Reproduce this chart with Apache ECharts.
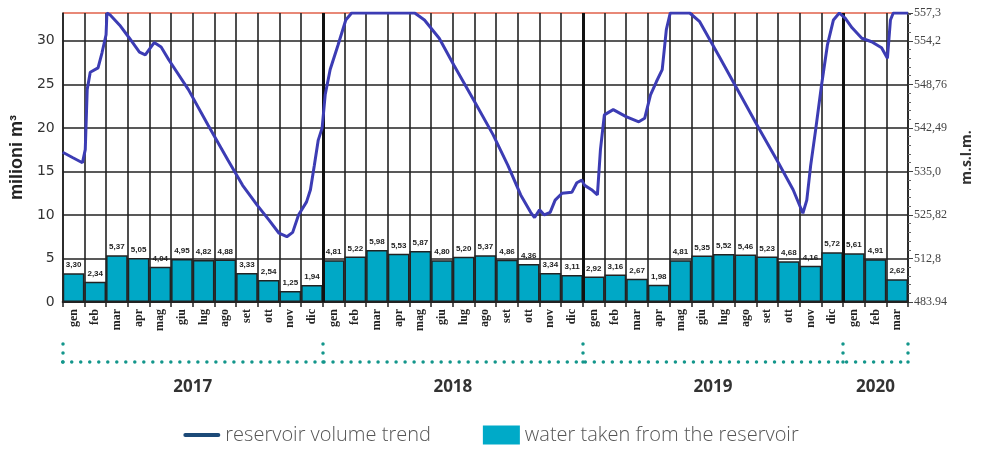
<!DOCTYPE html>
<html>
<head>
<meta charset="utf-8">
<script src="https://cdn.jsdelivr.net/npm/echarts@6/dist/echarts.min.js"></script>
<style>
  html, body { margin: 0; padding: 0; background: #fff; }
  #chart { width: 982px; height: 450px; }
</style>
</head>
<body>
<div id="chart"></div>
<script>
// mesi (etichette asse x)
const MONTHS = ['gen', 'feb', 'mar', 'apr', 'mag', 'giu', 'lug', 'ago', 'set', 'ott', 'nov', 'dic'];
const categories = [].concat(MONTHS, MONTHS, MONTHS, MONTHS.slice(0, 3));

// prelievi mensili (milioni m3)
const water2017 = [3.30, 2.34, 5.37, 5.05, 4.04, 4.95, 4.82, 4.88, 3.33, 2.54, 1.25, 1.94];
const water2018 = [4.81, 5.22, 5.98, 5.53, 5.87, 4.80, 5.20, 5.37, 4.86, 4.36, 3.34, 3.11];
const water2019 = [2.92, 3.16, 2.67, 1.98, 4.81, 5.35, 5.52, 5.46, 5.23, 4.68, 4.16, 5.72];
const water2020 = [5.61, 4.91, 2.62];
const waterTaken = [].concat(water2017, water2018, water2019, water2020);

// andamento volume invaso: [mese (0-39), milioni m3]
const volume2017 = [
  [0, 17.2], [0.45, 16.6], [0.91, 16.0], [1.04, 17.5], [1.13, 24.4], [1.27, 26.4],
  [1.63, 26.9], [1.81, 28.6], [2.0, 30.7], [2.04, 33.2], [2.18, 33.0], [2.63, 31.8],
  [3.08, 30.3], [3.54, 28.7], [3.81, 28.4], [4.22, 29.8], [4.54, 29.3], [4.9, 27.8],
  [5.8, 24.4], [6.71, 20.3], [7.62, 16.3], [8.3, 13.4], [8.98, 11.1], [9.52, 9.4],
  [9.98, 7.9], [10.34, 7.5], [10.61, 8.0], [10.88, 10.0], [11.25, 11.5], [11.43, 12.9],
  [11.61, 15.7], [11.79, 18.6], [11.97, 20.0]
];
const volume2018 = [
  [12.11, 23.8], [12.34, 26.7], [12.7, 29.5], [13.06, 32.4], [13.33, 33.2], [16.24, 33.2],
  [16.69, 32.4], [17.37, 30.3], [18.05, 27.2], [18.96, 23.2], [19.86, 19.2], [20.54, 15.7],
  [21.13, 12.3], [21.59, 10.3], [21.77, 9.7], [22.0, 10.6], [22.22, 10.0], [22.49, 10.3],
  [22.72, 11.7], [23.04, 12.5], [23.49, 12.6], [23.72, 13.7], [23.95, 14.0]
];
const volume2019 = [
  [24.08, 13.4], [24.4, 12.9], [24.67, 12.3], [24.81, 17.5], [24.99, 21.5], [25.4, 22.1],
  [25.99, 21.3], [26.58, 20.7], [26.85, 21.1], [27.12, 23.8], [27.39, 25.3], [27.66, 26.7],
  [27.85, 31.3], [28.03, 33.2], [28.93, 33.2], [29.39, 32.2], [30.29, 28.2], [31.2, 24.1],
  [32.11, 20.0], [33.02, 16.0], [33.7, 12.9], [34.15, 10.2], [34.33, 11.7], [34.51, 15.7],
  [34.74, 19.8], [35.01, 24.9], [35.28, 29.5], [35.56, 32.4], [35.83, 33.2]
];
const volume2020 = [
  [36.1, 32.6], [36.42, 31.5], [36.87, 30.3], [37.32, 29.9], [37.78, 29.2], [38.05, 28.0],
  [38.19, 32.4], [38.32, 33.2], [39, 33.2]
];
const volumeTrend = [].concat(volume2017, volume2018, volume2019, volume2020);

// anni
const YEARS = ['2017', '2018', '2019', '2020'];
const YEAR_CENTERS = [6, 18, 30, 37.5];
const YEAR_BOUNDS = [0, 12, 24, 36, 39];

// etichette asse destro (m.s.l.m.)
const Y_MAX = 33.2;
const RIGHT_LABELS = ['483.94', '512,8', '525,82', '535,0', '542,49', '548,76', '554,2', '557,3'];

const TEAL = '#13968b';
const dots = { color: TEAL, width: 3.5, type: [0.01, 9], cap: 'round' };

const chart = echarts.init(document.getElementById('chart'));

const option = {
  animation: false,
  grid: { left: 52, right: 70, top: 13, bottom: 148 },
  legend: {
    bottom: 0,
    left: 'center',
    itemWidth: 37,
    itemHeight: 19,
    itemGap: 52,
    textStyle: { fontFamily: 'Open Sans', fontSize: 20, fontWeight: 300, color: '#555' },
    data: [
      {
        name: 'reservoir volume trend',
        icon: 'path://M0,0M37,19M2,7.5L35,7.5Q37,7.5,37,9.5Q37,11.5,35,11.5L2,11.5Q0,11.5,0,9.5Q0,7.5,2,7.5Z',
        itemStyle: { color: '#1c4a78', borderWidth: 0 }
      },
      { name: 'water taken from the reservoir', icon: 'rect', itemStyle: { color: '#00aac8', borderWidth: 0 } }
    ]
  },
  xAxis: [
    {
      type: 'category',
      data: categories,
      boundaryGap: true,
      axisLine: { lineStyle: { color: '#222', width: 2 } },
      axisTick: { show: true, interval: 0, length: 5, lineStyle: { color: '#222', width: 1.5 } },
      axisLabel: {
        interval: 0,
        rotate: 90,
        margin: 7,
        fontFamily: 'Liberation Serif',
        fontWeight: 'bold',
        fontSize: 12,
        color: '#222'
      },
      splitLine: { show: true, interval: 0, lineStyle: { color: '#222', width: 1.6 } }
    },
    {
      type: 'value',
      min: 0,
      max: 39,
      position: 'bottom',
      offset: 60,
      axisLine: { show: true, onZero: false, lineStyle: dots },
      axisTick: {
        show: true,
        inside: true,
        length: 20,
        customValues: YEAR_BOUNDS,
        lineStyle: dots
      },
      axisLabel: {
        customValues: YEAR_CENTERS,
        margin: 17,
        fontFamily: 'Open Sans',
        fontWeight: 'bold',
        fontSize: 17,
        color: '#333',
        formatter: function (v) {
          return YEARS[YEAR_CENTERS.indexOf(v)] || '';
        }
      },
      splitLine: { show: false }
    }
  ],
  yAxis: [
    {
      type: 'value',
      min: 0,
      max: Y_MAX,
      interval: 5,
      name: 'milioni m³',
      nameLocation: 'middle',
      nameGap: 30,
      nameRotate: 90,
      nameTextStyle: { fontFamily: 'Liberation Sans', fontWeight: 'bold', fontSize: 18, color: '#222' },
      axisLine: { show: true, lineStyle: { color: '#222', width: 1.5 } },
      axisTick: { show: false },
      axisLabel: {
        margin: 8,
        fontFamily: 'DejaVu Sans',
        fontSize: 14,
        color: '#333',
        formatter: function (v) {
          return v % 5 === 0 ? String(v) : '';
        }
      },
      splitLine: {
        show: true,
        lineStyle: {
          color: ['#222', '#222', '#222', '#222', '#222', '#222', '#222', '#e0604a'],
          width: 1.6
        }
      }
    },
    {
      type: 'value',
      min: 0,
      max: Y_MAX,
      interval: 5,
      position: 'right',
      name: 'm.s.l.m.',
      nameLocation: 'middle',
      nameGap: 52,
      nameRotate: 90,
      nameTextStyle: { fontFamily: 'Open Sans', fontWeight: 'bold', fontSize: 14, color: '#333' },
      axisLine: { show: true, lineStyle: { color: '#222', width: 1.5 } },
      axisTick: { show: true, length: 5, lineStyle: { color: '#444' } },
      minorTick: { show: true, splitNumber: 5, length: 3, lineStyle: { color: '#666' } },
      axisLabel: {
        margin: 6,
        fontFamily: 'Liberation Sans Narrow',
        fontSize: 12,
        color: '#444',
        formatter: function (v) {
          if (v === Y_MAX) return RIGHT_LABELS[RIGHT_LABELS.length - 1];
          return RIGHT_LABELS[Math.round(v / 5)];
        }
      },
      splitLine: { show: false }
    }
  ],
  series: [
    {
      name: 'water taken from the reservoir',
      type: 'bar',
      xAxisIndex: 0,
      yAxisIndex: 0,
      data: waterTaken,
      barCategoryGap: '0%',
      itemStyle: { color: '#00a8c6', borderColor: '#222', borderWidth: 1.5 },
      label: {
        show: true,
        position: 'top',
        distance: 4,
        fontFamily: 'Liberation Sans',
        fontWeight: 'bold',
        fontSize: 8,
        color: '#222',
        formatter: function (p) {
          return p.value.toFixed(2).replace('.', ',');
        }
      }
    },
    {
      name: 'reservoir volume trend',
      type: 'line',
      xAxisIndex: 1,
      yAxisIndex: 0,
      data: volumeTrend,
      symbol: 'none',
      z: 5,
      lineStyle: { color: '#3c3cb4', width: 3 },
      itemStyle: { color: '#1c4a78' },
      markLine: {
        silent: true,
        symbol: 'none',
        label: { show: false },
        lineStyle: { color: '#111', width: 3, type: 'solid' },
        data: YEAR_BOUNDS.slice(1, 4).map(function (b) { return { xAxis: b }; })
      }
    }
  ]
};

chart.setOption(option);
</script>
</body>
</html>
